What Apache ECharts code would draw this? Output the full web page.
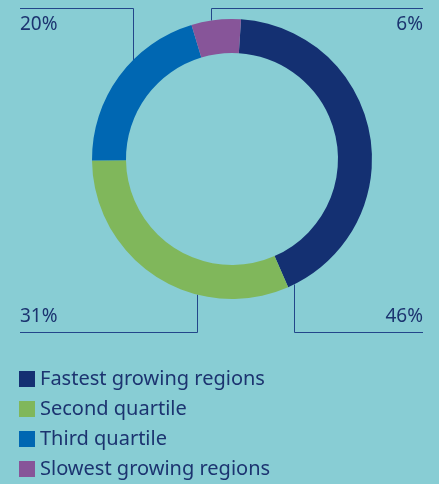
<!DOCTYPE html>
<html>
<head>
<meta charset="utf-8">
<script src="https://cdn.jsdelivr.net/npm/echarts@6/dist/echarts.min.js"></script>
<style>
    html, body { margin: 0; padding: 0; background: #88cdd4; }
    #chart { width: 439px; height: 484px; }
</style>
</head>
<body>
<div id="chart"></div>
<script>
    const categories = ['Fastest growing regions', 'Second quartile', 'Third quartile', 'Slowest growing regions'];
    const shares = [42.4, 31.4, 20.5, 5.7];
    const printedPct = ['46%', '31%', '20%', '6%'];
    const colors = ['#143072', '#80b75b', '#0067b2', '#875599'];

    const textColor = '#1c3470';
    const lineColor = '#23468a';

    // ring geometry
    const cx = 232, cy = 159, rOut = 140, rIn = 106;

    // leader line layout per slice: anchor x on ring, side (top/bottom), label side
    const leaders = [
        { ax: 294, bottom: true, right: true },
        { ax: 197, bottom: true, right: false },
        { ax: 133, bottom: false, right: false },
        { ax: 211, bottom: false, right: true }
    ];
    const lineTop = 8, lineBottom = 332, xLeft = 20, xRight = 423;

    const chart = echarts.init(document.getElementById('chart'));

    const option = {
        backgroundColor: '#88cdd4',
        animation: false,
        color: colors,
        legend: {
            orient: 'vertical',
            left: 19,
            top: 369,
            height: 140,
            padding: 0,
            itemWidth: 16,
            itemHeight: 16,
            itemGap: 10,
            icon: 'rect',
            data: categories,
            textStyle: {
                color: textColor,
                fontFamily: 'Noto Sans',
                fontSize: 20,
                padding: 0
            }
        },
        series: [
            {
                type: 'pie',
                center: [cx, cy],
                radius: [rIn, rOut],
                startAngle: 86.3,
                clockwise: true,
                avoidLabelOverlap: false,
                silent: true,
                itemStyle: { borderWidth: 0 },
                label: {
                    show: true,
                    position: 'outside',
                    color: textColor,
                    fontFamily: 'Noto Sans',
                    fontSize: 19,
                    formatter: p => printedPct[p.dataIndex]
                },
                labelLine: {
                    show: true,
                    smooth: false,
                    lineStyle: { color: lineColor, width: 1 }
                },
                labelLayout: params => {
                    const l = leaders[params.dataIndex];
                    const dx = l.ax - cx;
                    const dy = Math.sqrt(rOut * rOut - dx * dx);
                    const ay = l.bottom ? cy + dy : cy - dy;
                    const ly = l.bottom ? lineBottom : lineTop;
                    const ex = l.right ? xRight : xLeft;
                    // half pixel offsets keep the 1px leader lines crisp
                    const px = l.ax + 0.5, py = ly + 0.5;
                    return {
                        x: ex,
                        y: l.bottom ? ly - 15 : ly + 17,
                        align: l.right ? 'right' : 'left',
                        verticalAlign: 'middle',
                        labelLinePoints: [[px, ay], [px, py], [ex, py]]
                    };
                },
                data: categories.map((name, i) => ({ name: name, value: shares[i] }))
            }
        ]
    };

    chart.setOption(option);
</script>
</body>
</html>
